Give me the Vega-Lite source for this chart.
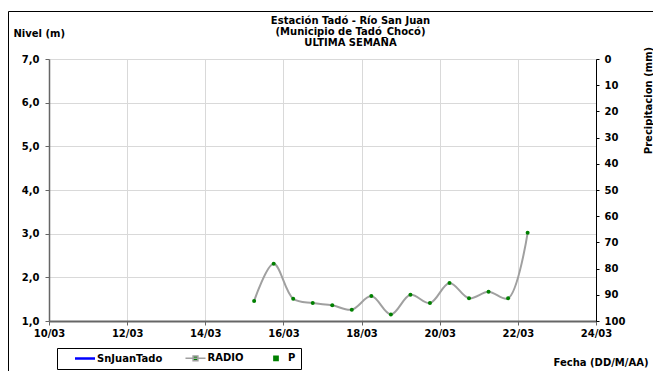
{
  "$schema": "https://vega.github.io/schema/vega-lite/v6.json",
  "width": 547,
  "height": 262,
  "autosize": {"type": "none"},
  "padding": {"left": 49, "top": 59, "right": 57, "bottom": 50},
  "background": "white",
  "config": {
    "view": {"stroke": null},
    "font": "DejaVu Sans",
    "axis": {
      "labelFont": "DejaVu Sans",
      "labelFontWeight": "bold",
      "labelFontSize": 10,
      "labelColor": "black",
      "titleFont": "DejaVu Sans",
      "titleFontWeight": "bold",
      "titleFontSize": 10,
      "titleColor": "black",
      "gridColor": "#D9D9D9",
      "gridWidth": 1
    }
  },
  "title": {
    "text": ["Estación Tadó - Río San Juan", "(Municipio de Tadó_Chocó)", "ULTIMA SEMANA"],
    "font": "DejaVu Sans",
    "fontSize": 10,
    "fontWeight": "bold",
    "lineHeight": 11,
    "anchor": "middle",
    "dx": 28,
    "offset": -37,
    "color": "black"
  },
  "data": {
    "values": [
      {"t": "2024-03-15T06:00:00Z", "nivel": 1.46, "serie": "RADIO", "p": null},
      {"t": "2024-03-15T18:00:00Z", "nivel": 2.31, "serie": "RADIO", "p": null},
      {"t": "2024-03-16T06:00:00Z", "nivel": 1.51, "serie": "RADIO", "p": null},
      {"t": "2024-03-16T18:00:00Z", "nivel": 1.41, "serie": "RADIO", "p": null},
      {"t": "2024-03-17T06:00:00Z", "nivel": 1.36, "serie": "RADIO", "p": null},
      {"t": "2024-03-17T18:00:00Z", "nivel": 1.26, "serie": "RADIO", "p": null},
      {"t": "2024-03-18T06:00:00Z", "nivel": 1.57, "serie": "RADIO", "p": null},
      {"t": "2024-03-18T18:00:00Z", "nivel": 1.15, "serie": "RADIO", "p": null},
      {"t": "2024-03-19T06:00:00Z", "nivel": 1.60, "serie": "RADIO", "p": null},
      {"t": "2024-03-19T18:00:00Z", "nivel": 1.41, "serie": "RADIO", "p": null},
      {"t": "2024-03-20T06:00:00Z", "nivel": 1.87, "serie": "RADIO", "p": null},
      {"t": "2024-03-20T18:00:00Z", "nivel": 1.52, "serie": "RADIO", "p": null},
      {"t": "2024-03-21T06:00:00Z", "nivel": 1.67, "serie": "RADIO", "p": null},
      {"t": "2024-03-21T18:00:00Z", "nivel": 1.52, "serie": "RADIO", "p": null},
      {"t": "2024-03-22T06:00:00Z", "nivel": 3.02, "serie": "RADIO", "p": null}
    ]
  },
  "encoding": {
    "x": {
      "field": "t",
      "type": "temporal",
      "scale": {
        "type": "utc",
        "domain": [
          {"year": 2024, "month": 3, "date": 10, "utc": true},
          {"year": 2024, "month": 3, "date": 24, "utc": true}
        ]
      },
      "axis": {
        "values": [
          {"year": 2024, "month": 3, "date": 10, "utc": true},
          {"year": 2024, "month": 3, "date": 12, "utc": true},
          {"year": 2024, "month": 3, "date": 14, "utc": true},
          {"year": 2024, "month": 3, "date": 16, "utc": true},
          {"year": 2024, "month": 3, "date": 18, "utc": true},
          {"year": 2024, "month": 3, "date": 20, "utc": true},
          {"year": 2024, "month": 3, "date": 22, "utc": true},
          {"year": 2024, "month": 3, "date": 24, "utc": true}
        ],
        "format": "%d/%m",
        "grid": true,
        "domainColor": "#666666",
        "domainWidth": 2,
        "tickColor": "#666666",
        "tickSize": 4,
        "labelPadding": 3,
        "labelFlush": false,
        "labelOverlap": false,
        "title": "Fecha (DD/M/AA)",
        "titleX": 599,
        "titleY": 41,
        "titleAlign": "right",
        "titleAnchor": null,
        "titleBaseline": "middle"
      }
    }
  },
  "layer": [
    {
      "encoding": {
        "y": {
          "field": "nivel",
          "type": "quantitative",
          "scale": {"domain": [1, 7], "nice": false, "zero": false},
          "axis": {
            "orient": "left",
            "values": [1, 2, 3, 4, 5, 6, 7],
            "labelExpr": "replace(format(datum.value, '.1f'), '.', ',')",
            "grid": true,
            "domainColor": "#666666",
            "domainWidth": 1.5,
            "tickColor": "#666666",
            "tickSize": 4,
            "labelPadding": 6,
            "title": "Nivel (m)",
            "titleAngle": 0,
            "titleAlign": "left",
            "titleBaseline": "middle",
            "titleX": -36,
            "titleY": -26
          }
        }
      },
      "layer": [
        {
          "mark": {"type": "line", "interpolate": "catmull-rom", "strokeWidth": 2},
          "encoding": {
            "color": {
              "field": "serie",
              "type": "nominal",
              "scale": {
                "domain": ["SnJuanTado", "RADIO", "P"],
                "range": ["#0000FF", "#A0A0A0", "#008000"]
              },
              "legend": {
                "orient": "none",
                "legendX": 8,
                "legendY": 289,
                "direction": "horizontal",
                "title": null,
                "strokeColor": "black",
                "fillColor": "white",
                "padding": 5,
                "symbolSize": 144,
                "symbolOffset": 18,
                "labelOffset": 7,
                "columnPadding": 9.5,
                "labelFont": "DejaVu Sans",
                "labelFontWeight": "bold",
                "labelFontSize": 10,
                "labelColor": "black",
                "encode": {
                  "symbols": {
                    "update": {
                      "shape": {"signal": "datum.value === 'SnJuanTado' ? 'M-1.67,0L1.67,0' : datum.value === 'RADIO' ? 'M-1.67,0L1.67,0M-0.4,-0.4L0.4,-0.4L0.4,0.4L-0.4,0.4Z' : 'M-0.35,-0.35L0.35,-0.35L0.35,0.35L-0.35,0.35Z'"},
                      "fill": {"signal": "datum.value === 'SnJuanTado' ? 'transparent' : '#008000'"},
                      "stroke": {"signal": "datum.value === 'SnJuanTado' ? '#0000FF' : datum.value === 'RADIO' ? '#A0A0A0' : 'transparent'"},
                      "strokeWidth": {"signal": "datum.value === 'SnJuanTado' ? 2.5 : 1.5"},
                      "opacity": {"value": 1},
                      "fillOpacity": {"value": 1}
                    }
                  }
                }
              }
            }
          }
        },
        {
          "mark": {"type": "point", "shape": "circle", "filled": true, "size": 16, "color": "#008000", "opacity": 1}
        }
      ]
    },
    {
      "mark": {"type": "point", "shape": "square", "filled": true, "size": 10, "color": "#008000"},
      "encoding": {
        "y": {
          "field": "p",
          "type": "quantitative",
          "scale": {"domain": [0, 100], "reverse": true, "nice": false, "zero": false},
          "axis": {
            "orient": "right",
            "values": [0, 10, 20, 30, 40, 50, 60, 70, 80, 90, 100],
            "grid": false,
            "domainColor": "black",
            "domainWidth": 1,
            "tickColor": "black",
            "tickSize": 3,
            "labelPadding": 5,
            "title": "Precipitacion (mm)",
            "titleAngle": 270,
            "titleBaseline": "middle",
            "titleAlign": "center",
            "titleX": 52,
            "titleY": 41
          }
        },
        "shape": {
          "field": "serie",
          "type": "nominal",
          "scale": {"domain": ["marco"], "range": ["square"]},
          "legend": {
            "orient": "none",
            "legendX": -41,
            "legendY": -48,
            "title": null,
            "padding": 330,
            "strokeColor": "black",
            "fillColor": null,
            "symbolSize": 1,
            "symbolOpacity": 0,
            "labelOpacity": 0,
            "labelFontSize": 1,
            "labelOffset": 0,
            "encode": {
              "legend": {"update": {"strokeWidth": {"value": 3}}}
            }
          }
        }
      }
    }
  ],
  "resolve": {"scale": {"y": "independent"}}
}
